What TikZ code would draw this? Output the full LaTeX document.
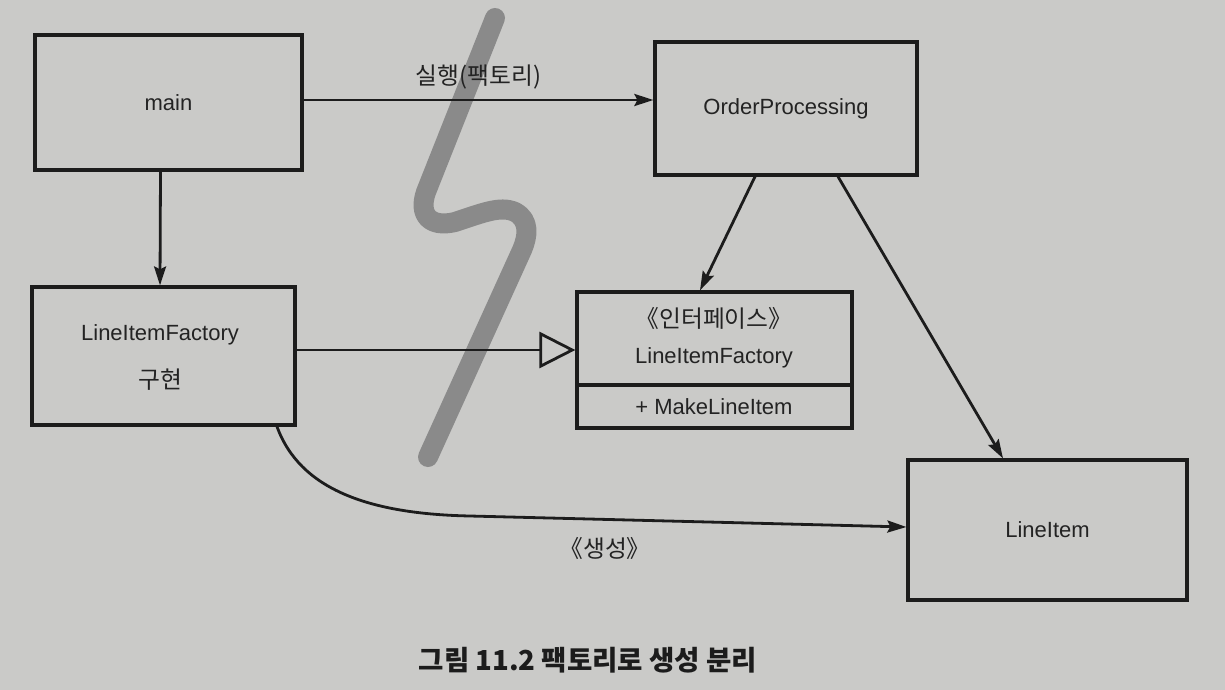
\documentclass[tikz,border=0pt]{standalone}
\usepackage{fontspec}
\setmainfont{Liberation Sans}
\newfontfamily\kr{Noto Sans CJK KR}[Scale=1.08]
\usetikzlibrary{arrows.meta}
\definecolor{paper}{RGB}{202,202,200}
\definecolor{ink}{RGB}{28,28,28}
\definecolor{txt}{RGB}{35,35,35}
\definecolor{squig}{RGB}{138,138,138}
\begin{document}
\begin{tikzpicture}[x=1pt,y=-1pt,
  box/.style={draw=ink,line width=3.2pt,inner sep=0pt,text=txt,font=\fontsize{22}{26}\selectfont},
  lbl/.style={text=txt,font=\fontsize{22}{26}\selectfont,inner sep=0pt},
  arr/.style={draw=ink,line width=2.8pt,-{Stealth[length=19pt,width=12pt,inset=3pt]}},
  tri/.style={draw=ink,line width=2.8pt,-{Triangle[open,length=36pt,width=36pt,line width=2.8pt]}}
]
\fill[paper] (0,0) rectangle (1225,690);
\useasboundingbox (0,0) rectangle (1225,690);

% squiggle (drawn beneath)
\draw[squig,line width=20pt,line cap=round,line join=round]
  (495,18) -- (426,192) .. controls (418,215) and (430,228) .. (455,222)
  .. controls (480,214) and (500,205) .. (515,212)
  .. controls (530,220) and (528,236) .. (522,250) -- (428,457);

% nodes
\node[box,minimum width=267pt,minimum height=135pt] (main) at (168.5,102.5) {main};
\node[box,minimum width=262pt,minimum height=133pt] (op) at (786,108.5) {OrderProcessing};
\node[box,minimum width=263pt,minimum height=138pt] (impl) at (163.5,356) {};
\node[lbl] (impltxt) at (160,335) {LineItemFactory};
\node[lbl] (implkr) at (160,380) {\kr 구현};
\node[box,minimum width=275pt,minimum height=136pt] (iface) at (714.5,360) {};
\node[lbl] (ster) at (714,318) {\kr 《인터페이스》};
\node[lbl] (ifname) at (714,358) {LineItemFactory};
\node[lbl] (meth) at (714,407) {+ MakeLineItem};
\coordinate (divl) at (577,385);
\coordinate (divr) at (852,385);
\draw[ink,line width=3.2pt] (divl) -- (divr);
\node[box,minimum width=279pt,minimum height=140pt] (li) at (1047.5,530) {LineItem};

% connectors
\draw[arr] ([yshift=2.5pt]main.east) -- ([yshift=2.5pt]main.east -| op.west)
  node[lbl,pos=0.5,above=9pt] (run) {\kr 실행(팩토리)};
\draw[arr] ([xshift=-8pt]main.south) -- ([xshift=-3.5pt]impl.north);
\draw[tri] ([yshift=6pt]impl.east) -- ([yshift=6pt]impl.east -| iface.west);
\draw[arr] ([xshift=-31pt]op.south) -- ([xshift=-14.5pt]iface.north);
\draw[arr] ([xshift=52pt]op.south) -- ([xshift=-44.5pt]li.north);
\draw[arr] ([xshift=113.5pt]impl.south) .. controls (300,490) and (370,514) .. (470,516)
  -- ([yshift=3pt]li.west);
\node[lbl] (create) at (605,548) {\kr 《생성》};

% caption
\node[text=ink,inner sep=0pt,font=\kr\bfseries\fontsize{25.5}{30}\selectfont] (cap) at (588,660) {그림 11.2 팩토리로 생성 분리};
\end{tikzpicture}
\end{document}
